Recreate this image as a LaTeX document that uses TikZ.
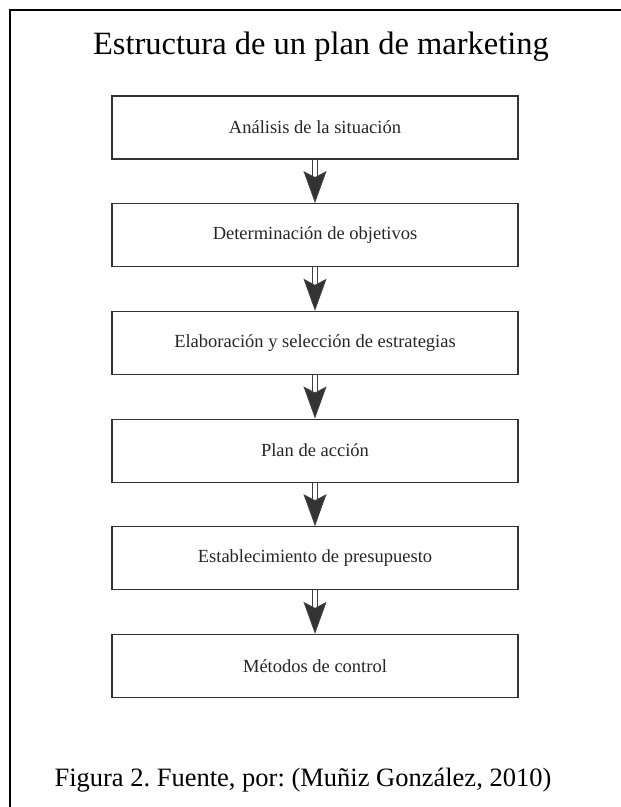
\documentclass[tikz,border=0pt]{standalone}
\usepackage{fontspec}
\setmainfont{Liberation Serif}
\usetikzlibrary{arrows.meta,positioning}
\frenchspacing

\begin{document}
\begin{tikzpicture}[
  x=1pt, y=-1pt,
  node distance=43.5pt,
  paso/.style={rectangle, draw=black!80, line width=1.2pt, align=center, minimum width=406pt, minimum height=63pt, inner sep=0pt, font=\fontsize{18.5}{22}\selectfont, text=black!85},
  flecha/.style={draw=black!75, double=white, double distance=4.5pt, line width=1pt, -{Stealth[length=32pt, width=23pt, inset=6pt, fill=black!80]}}
]
  \useasboundingbox (0,0) rectangle (621,807);
  \draw[line width=2pt] (10,10) rectangle (660,860);
  \node[font=\fontsize{32.5}{36}\selectfont] (titulo) at (321,47) {Estructura de un plan de marketing};
  \node[paso] (analisis) at (315,127.5) {Análisis de la situación};
  \node[paso, below=of analisis] (objetivos) {Determinación de objetivos};
  \node[paso, below=of objetivos] (estrategias) {Elaboración y selección de estrategias};
  \node[paso, below=of estrategias] (accion) {Plan de acción};
  \node[paso, below=of accion] (presupuesto) {Establecimiento de presupuesto};
  \node[paso, below=of presupuesto] (control) {Métodos de control};
  \draw[flecha] (analisis) -- (objetivos);
  \draw[flecha] (objetivos) -- (estrategias);
  \draw[flecha] (estrategias) -- (accion);
  \draw[flecha] (accion) -- (presupuesto);
  \draw[flecha] (presupuesto) -- (control);
  \node[font=\fontsize{26.5}{30}\selectfont, anchor=base west] (fuente) at (51,786) {Figura 2. Fuente, por: (Muñiz González, 2010)};
\end{tikzpicture}
\end{document}
